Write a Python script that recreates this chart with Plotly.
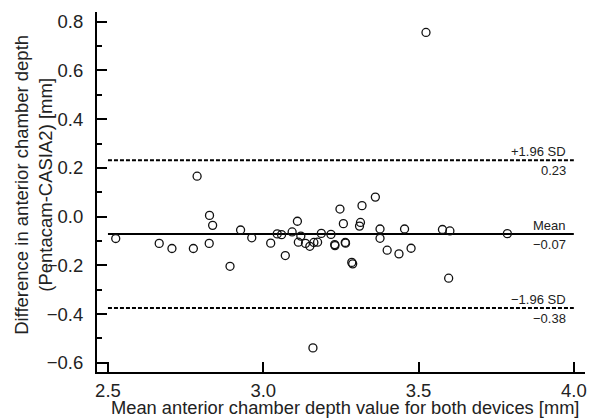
import plotly.graph_objects as go

# Bland-Altman data: mean of both devices (x) vs difference (y) [mm]
mean_values = [2.525, 2.665, 2.706, 2.775, 2.787, 2.827, 2.837, 2.826, 2.893, 2.927,
               2.963, 3.024, 3.045, 3.059, 3.071, 3.093, 3.110, 3.113, 3.121, 3.136,
               3.150, 3.163, 3.175, 3.187, 3.218, 3.230, 3.231, 3.264, 3.265, 3.247,
               3.258, 3.285, 3.288, 3.318, 3.313, 3.310, 3.361, 3.376, 3.376, 3.455,
               3.399, 3.437, 3.476, 3.577, 3.601, 3.786, 3.597, 3.524, 3.160]
diff_values = [-0.090, -0.110, -0.131, -0.131, 0.166, 0.005, -0.036, -0.110, -0.204, -0.055,
               -0.087, -0.109, -0.071, -0.074, -0.160, -0.063, -0.019, -0.105, -0.080, -0.110,
               -0.122, -0.106, -0.105, -0.069, -0.073, -0.115, -0.119, -0.106, -0.109, 0.031,
               -0.029, -0.188, -0.194, 0.045, -0.024, -0.039, 0.080, -0.051, -0.089, -0.051,
               -0.138, -0.153, -0.130, -0.053, -0.059, -0.070, -0.253, 0.756, -0.539]

line_levels = [0.231, -0.071, -0.375]
line_names = ["+1.96 SD", "Mean", "\u22121.96 SD"]
line_values = ["0.23", "\u22120.07", "\u22120.38"]
line_dashes = ["dash", "solid", "dash"]
line_span = [2.5, 4.0]

x_ticks = [2.5, 3.0, 3.5, 4.0]
y_ticks = [-0.6, -0.4, -0.2, 0.0, 0.2, 0.4, 0.6, 0.8]

FONT = "Liberation Sans, Arial, sans-serif"
TXT = "#222222"

fig = go.Figure()

for lvl, dash in zip(line_levels, line_dashes):
    fig.add_trace(go.Scatter(
        x=line_span, y=[lvl, lvl], mode="lines",
        line=dict(color="black", width=2, dash="4px,2px" if dash == "dash" else "solid"),
        hoverinfo="skip", showlegend=False))

fig.add_trace(go.Scatter(
    x=mean_values, y=diff_values, mode="markers",
    marker=dict(symbol="circle-open", size=8, color="#111111", line=dict(width=1.3, color="#111111")),
    showlegend=False))

for lvl, name, val in zip(line_levels, line_names, line_values):
    fig.add_annotation(x=line_span[1], y=lvl, xref="x", yref="y", text=name,
                       showarrow=False, xanchor="right", yanchor="bottom",
                       xshift=-7, yshift=0, borderpad=0,
                       font=dict(family=FONT, size=13, color=TXT))
    fig.add_annotation(x=line_span[1], y=lvl, xref="x", yref="y", text=val,
                       showarrow=False, xanchor="right", yanchor="top",
                       xshift=-7, yshift=-2, borderpad=0,
                       font=dict(family=FONT, size=13, color=TXT))

# axis titles
fig.add_annotation(x=-0.129, y=0.52, xref="paper", yref="paper",
                   text="Difference in anterior chamber depth<br>(Pentacam-CASIA2) [mm]",
                   textangle=-90, showarrow=False, xanchor="center", yanchor="middle",
                   font=dict(family=FONT, size=18.5, color=TXT))
fig.add_annotation(x=0.508, y=0.0, xref="paper", yref="paper", yshift=-47,
                   text="Mean anterior chamber depth value for both devices [mm]",
                   showarrow=False, xanchor="center", yanchor="bottom", borderpad=0,
                   font=dict(family=FONT, size=18.3, color=TXT))

fig.update_xaxes(range=[2.4647, 4.036], tickvals=x_ticks, ticktext=[f"{v:.1f}" for v in x_ticks],
                 ticks="inside", ticklen=10, tickwidth=2, tickcolor="black",
                 showline=True, linecolor="black", linewidth=2, showgrid=False, zeroline=False,
                 ticklabelstandoff=1,
                 tickfont=dict(family=FONT, size=18.5, color=TXT))
fig.update_yaxes(range=[-0.638, 0.840], tickvals=y_ticks,
                 ticktext=[f"{v:.1f}".replace("-", "\u2212") if v != 0 else "0.0" for v in y_ticks],
                 ticks="inside", ticklen=10, tickwidth=2, tickcolor="black",
                 minor=dict(tickvals=[-0.5, -0.3, -0.1, 0.1, 0.3, 0.5, 0.7],
                            ticks="inside", ticklen=5, tickwidth=1.5, tickcolor="black"),
                 showline=True, linecolor="black", linewidth=2, showgrid=False, zeroline=False,
                 ticklabelstandoff=8,
                 tickfont=dict(family=FONT, size=18.5, color=TXT))

fig.update_layout(width=589, height=419, margin=dict(l=97, r=2, t=12, b=47),
                  plot_bgcolor="white", paper_bgcolor="white", showlegend=False)

fig.write_html("out.html", config={"displayModeBar": False},
               post_script="document.body.style.margin='0';document.body.style.padding='0';")
